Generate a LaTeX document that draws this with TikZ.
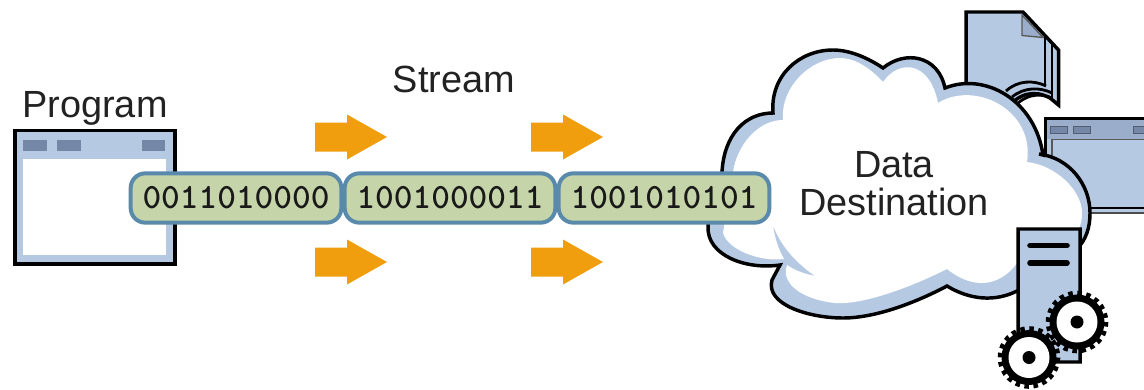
\documentclass[tikz,border=0pt]{standalone}
\usepackage{fontspec}
\setmainfont{Liberation Sans}
\definecolor{paleblue}{HTML}{B6C9E3}
\definecolor{midblue}{HTML}{9AAECB}
\definecolor{slateblue}{HTML}{7487A6}
\definecolor{chipfill}{HTML}{C5D5A9}
\definecolor{chipedge}{HTML}{5A8AAB}
\definecolor{arroworange}{HTML}{F09E0D}
\definecolor{inktext}{HTML}{222222}
\tikzset{
  ink/.style={draw=black,line width=2.6pt,line join=miter},
  stackline/.style={draw=black,line width=2.1pt},
  label text/.style={anchor=base,inner sep=0pt,text=inktext,font=\fontsize{28.4pt}{34pt}\selectfont},
  chip/.style={draw=chipedge,fill=chipfill,line width=3pt,rounded corners=11pt,minimum width=158pt,minimum height=37pt,inner sep=0pt,text=black!90,font=\ttfamily\bfseries\fontsize{26.7pt}{28pt}\selectfont},
  titlebox/.style={fill=slateblue},
  flow/.style={fill=arroworange}
}
\newcommand{\flowarrow}[2]{\fill[flow] (#1,#2-14.5) -- (#1+32,#2-14.5) -- (#1+32,#2-22.5) -- (#1+72,#2) -- (#1+32,#2+22.5) -- (#1+32,#2+14.5) -- (#1,#2+14.5) -- cycle;}
\newcommand{\gearat}[2]{%
  \fill[black] (#1,#2) circle[radius=27.5];
  \draw[black,line width=4.2pt,dash pattern=on 3.36pt off 3.36pt] (#1,#2) circle[radius=28.5];
  \fill[white] (#1,#2) circle[radius=20.5];
  \fill[black] (#1,#2) circle[radius=6.5];}
\begin{document}
\begin{tikzpicture}[x=0.75pt,y=-0.75pt]
\useasboundingbox (0,0) rectangle (1144,389);
% program window
\draw[ink,fill=paleblue] (15,130.5) rectangle (175,264);
\fill[white] (23,159) rectangle (166,255);
\fill[titlebox] (23,140) rectangle (47,151);
\fill[titlebox] (57,140) rectangle (81,151);
\fill[titlebox] (142,140) rectangle (165,151);
% arrows
\flowarrow{315}{137}
\flowarrow{531}{137}
\flowarrow{315}{262}
\flowarrow{531}{262}
% document stack
\draw[ink,fill=paleblue] (966,120) -- (966,12) -- (1023,12) -- (1058.5,50) -- (1058.5,105) -- (1050,98) .. controls (1035,90) and (1020,92) .. (1005,110) -- cycle;
\draw[fill=midblue,draw=black!65,line width=1pt] (1022,15) -- (1022,35.5) -- (1043,37.5) -- cycle;
\draw[stackline] (1045,36) -- (1045,86);
\draw[stackline] (1052,43) -- (1052,98);
\draw[stackline] (1006,91) .. controls (1018,80) and (1034,80) .. (1046,86);
\draw[stackline] (1012,97) .. controls (1024,87) and (1040,87) .. (1052,93);
\draw[stackline] (1018,103) .. controls (1030,93) and (1042,94) .. (1052,98);
% destination window
\fill[paleblue] (1045,118) rectangle (1144,214);
\fill[midblue] (1045,120) rectangle (1144,139);
\draw[ink] (1144,118.5) -- (1045.5,118.5) -- (1045.5,190);
\draw[draw=black!65,line width=1pt] (1144,139.5) -- (1052,139.5) -- (1052,200);
\draw[black,line width=1.5pt] (1045,208) -- (1144,208);
\draw[black!70,line width=1pt] (1045,213) -- (1144,213);
\foreach \xa/\xb in {1050/1067,1073/1090,1133/1144}{
  \draw[fill=slateblue,draw=slateblue!70!black,line width=.7pt] (\xa,126) rectangle (\xb,133);
}
% cloud
\draw[ink,fill=paleblue]
  (722,172) .. controls (724,135) and (745,113) .. (773,113)
  .. controls (770,75) and (800,50) .. (833,50)
  .. controls (850,50) and (868,58) .. (883,68)
  .. controls (905,50) and (938,55) .. (945,88)
  .. controls (985,72) and (1035,100) .. (1043,155)
  -- (1039,154)
  .. controls (1070,158) and (1090,185) .. (1090,213)
  .. controls (1090,228) and (1086,240) .. (1076,250)
  -- (1030,285) -- (1017,291)
  .. controls (995,302) and (970,300) .. (947,286)
  .. controls (915,303) and (875,318) .. (843,318)
  .. controls (810,318) and (765,305) .. (772,280)
  -- (780,265)
  .. controls (745,270) and (707,255) .. (708,227)
  .. controls (708,205) and (712,185) .. (722,172)
  -- cycle;
\fill[white]
  (733,172) .. controls (737,145) and (758,120) .. (783,120)
  .. controls (780,88) and (810,58) .. (840,58)
  .. controls (855,58) and (870,68) .. (883,82)
  .. controls (900,58) and (930,62) .. (938,103)
  .. controls (975,80) and (1035,110) .. (1027,162)
  .. controls (1055,165) and (1082,190) .. (1082,213)
  .. controls (1082,225) and (1078,232) .. (1072,240)
  -- (1040,250) -- (1017,263)
  .. controls (1005,280) and (980,295) .. (947,269)
  .. controls (905,290) and (860,305) .. (835,303)
  .. controls (805,300) and (780,285) .. (787,265)
  .. controls (796,271) and (805,274) .. (815,276)
  .. controls (795,262) and (780,245) .. (773,225)
  .. controls (775,240) and (779,250) .. (784,259)
  .. controls (760,262) and (728,250) .. (723,233)
  -- cycle;
% server
\draw[ink,fill=paleblue] (1018,229) -- (1080,229) -- (1080,362) -- (1040,362) -- (1018,340) -- cycle;
\draw[black,line width=4.2pt,line cap=round] (1030,245.5) -- (1067,245.5);
\draw[black,line width=4.2pt,line cap=round] (1030,263) -- (1067,263);
\gearat{1077}{322}
\gearat{1029}{357.5}
% chips
\node[chip] (chipa) at (236,198) {0011010000};
\node[chip] (chipb) at (450,198) {1001000011};
\node[chip] (chipc) at (664,198) {1001010101};
% labels
\node[label text] (program) at (95,117) {Program};
\node[label text] (stream) at (454,92) {Stream};
\node[label text] (data) at (894,177) {Data};
\node[label text] (dest) at (894,215) {Destination};
\end{tikzpicture}
\end{document}
